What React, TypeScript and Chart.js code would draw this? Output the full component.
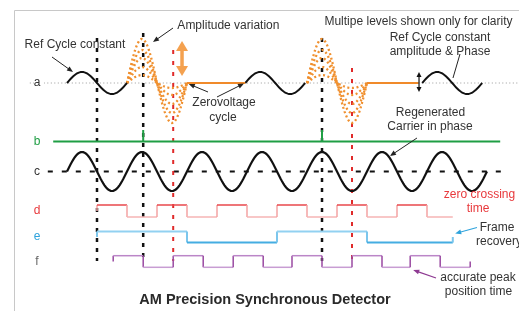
import { useEffect, useRef } from "react";
import { Chart, registerables } from "chart.js";
Chart.register(...registerables);

// ---- data (time measured in carrier periods) ----
const CYCLE_KINDS = ["ref", "var", "zero", "ref", "var", "zero", "ref"];
const CYCLE_STARTS = [0, 1, 2, 2.97, 4, 5, 5.92];
const CYCLE_ENDS = [1, 2, 2.97, 3.97, 5, 5.86, 6.92];
const REF_AMP = 11;
const VAR_PEAKS = [44, 33, 25, 16, 8];
const VAR_TROUGHS = [40, 30, 21, 12, 5];
const CARRIER_CYCLES = 7;
const CARRIER_AMP = 19.5;
const B_RANGE = [-0.23, 7.22];
const B_TICKS = [1.27, 4.25];
const B_TICK_H = 11.5;
const D_EDGES = [0.5, 1, 1.5, 2, 2.5, 3, 3.5, 4, 4.5, 5, 5.5, 6, 6.43];
const D_LEVELS = [1, 0, 1, 0, 1, 0, 1, 0, 1, 0, 1, 0];
const E_EDGES = [0.5, 2, 3.5, 5, 6.43];
const E_LEVELS = [1, 0, 1, 0];
const F_EDGES = [0.77, 1.27, 1.77, 2.27, 2.77, 3.27, 3.75, 4.25, 4.75, 5.25, 5.72, 6.22, 6.72];
const F_LEVELS = [1, 0, 1, 0, 1, 0, 1, 0, 1, 0, 1, 0];
const PEAK_MARKS = [0.5, 1.27, 4.25];
const PEAK_MARK_TOPS = [38, 33, 38];
const TROUGH_MARKS = [1.77, 4.75];
const TROUGH_MARK_TOPS = [50, 68];
const ROW_LABELS = ["a", "b", "c", "d", "e", "f"];

// ---- layout / style ----
const ROW = { a: 83, b: 141.5, c: 171.5, d: 211, e: 237, f: 261.5 };
const SWING = { d: 6, e: 5.6, f: 5.8 };
const MARK_BOTTOM = 261;
const FONT = '"Liberation Sans", Arial, sans-serif';
const ORANGE = "#f08a2a";
const GREEN = "#1f9e44";
const RED = "#e8393c";
const BLUE = "#2fa3dc";
const PURPLE = "#8e3a92";
const LABEL_COLORS = ["#333", GREEN, "#333", RED, BLUE, "#666"];

const N = 48;
function sineCycle(t0: number, t1: number, base: number, pos: number, neg: number) {
  const pts: { x: number; y: number }[] = [];
  for (let i = 0; i <= N; i++) {
    const f = i / N;
    const s = Math.sin(2 * Math.PI * f);
    const amp = s >= 0 ? pos : neg;
    pts.push({ x: t0 + (t1 - t0) * f, y: base - s * amp });
  }
  return pts;
}

function digital(edges: number[], levels: number[], base: number, swing: number, endTick: boolean) {
  const lv = (l: number) => (l ? base - swing : base + swing);
  const pts: { x: number; y: number }[] = [{ x: edges[0], y: base }];
  for (let i = 0; i < levels.length; i++) {
    pts.push({ x: edges[i], y: lv(levels[i]) });
    pts.push({ x: edges[i + 1], y: lv(levels[i]) });
  }
  if (endTick) pts.push({ x: edges[edges.length - 1], y: base });
  return pts;
}

function segColors(base: number, hi: string, lo: string, vert: string) {
  return (ctx: any) => {
    const a = ctx.p0.parsed, b = ctx.p1.parsed;
    if (Math.abs(a.x - b.x) < 1e-9) return vert;
    return a.y < base ? hi : lo;
  };
}

function line(data: any[], color: string, width: number, order: number, extra: any = {}) {
  return {
    type: "line",
    data,
    borderColor: color,
    borderWidth: width,
    pointRadius: 0,
    fill: false,
    tension: 0,
    order,
    ...extra,
  };
}

export default function App() {
  const ref = useRef<HTMLCanvasElement>(null);
  useEffect(() => {
    const datasets: any[] = [];
    // a baseline (dotted)
    datasets.push(line([{ x: -0.62, y: ROW.a }, { x: 7.52, y: ROW.a }], "#9a9a9a", 1, 20, { borderDash: [1, 2.5] }));
    // c baseline (dashed)
    datasets.push(line([{ x: -0.32, y: ROW.c }, { x: 7.27, y: ROW.c }], "#111", 2, 20, { borderDash: [5, 9] }));
    // vertical marker lines
    PEAK_MARKS.forEach((t, i) =>
      datasets.push(line([{ x: t, y: PEAK_MARK_TOPS[i] }, { x: t, y: MARK_BOTTOM }], "#111", 2.5, 15, { borderDash: [4, 6] }))
    );
    TROUGH_MARKS.forEach((t, i) =>
      datasets.push(line([{ x: t, y: TROUGH_MARK_TOPS[i] }, { x: t, y: MARK_BOTTOM }], "#e02a2a", 2, 15, { borderDash: [4, 7] }))
    );
    // signal a
    CYCLE_KINDS.forEach((k, i) => {
      const t0 = CYCLE_STARTS[i], t1 = CYCLE_ENDS[i];
      if (k === "ref") {
        datasets.push(line(sineCycle(t0, t1, ROW.a, REF_AMP, REF_AMP), "#111", 2, 5));
      } else if (k === "zero") {
        datasets.push(line([{ x: t0, y: ROW.a }, { x: t1, y: ROW.a }], ORANGE, 2.2, 5));
      } else {
        VAR_PEAKS.forEach((p, j) =>
          datasets.push(line(sineCycle(t0, t1, ROW.a, p, VAR_TROUGHS[j]), "#f0902f", 2.3, 6, { borderDash: [2, 2.6] }))
        );
      }
    });
    // signal b
    datasets.push(line([{ x: B_RANGE[0], y: ROW.b }, { x: B_RANGE[1], y: ROW.b }], GREEN, 2, 5));
    B_TICKS.forEach((t) =>
      datasets.push(line([{ x: t, y: ROW.b - B_TICK_H }, { x: t, y: ROW.b }], GREEN, 2, 5))
    );
    // signal c
    const cpts: any[] = [];
    for (let k = 0; k < CARRIER_CYCLES; k++) {
      const c = sineCycle(k, k + 1, ROW.c, CARRIER_AMP, CARRIER_AMP);
      if (k > 0) c.shift();
      cpts.push(...c);
    }
    datasets.push(line(cpts, "#111", 2.2, 5));
    // digital d, e, f
    datasets.push(line(digital(D_EDGES, D_LEVELS, ROW.d, SWING.d, false), RED, 1.5, 5, {
      segment: { borderColor: segColors(ROW.d, "#e8474b", "#f6b5b5", "#f3a3a3") },
    }));
    datasets.push(line(digital(E_EDGES, E_LEVELS, ROW.e, SWING.e, true), BLUE, 2, 5, {
      segment: { borderColor: segColors(ROW.e, "#92d1f1", "#45ade2", "#7cc6ec") },
    }));
    datasets.push(line(digital(F_EDGES, F_LEVELS, ROW.f, SWING.f, true), PURPLE, 1.5, 5, {
      segment: { borderColor: segColors(ROW.f, "#bb86c8", "#c89dd3", "#9a4aa2") },
    }));

    const annotate = {
      id: "annotate",
      beforeDatasetsDraw(chart: any) {
        const c = chart.ctx;
        c.save();
        c.strokeStyle = "#c8c8c8";
        c.lineWidth = 1;
        c.beginPath();
        c.moveTo(14.5, 311);
        c.lineTo(14.5, 10.5);
        c.lineTo(519, 10.5);
        c.stroke();
        c.restore();
      },
      afterDatasetsDraw(chart: any) {
        const c = chart.ctx;
        const xs = chart.scales.x, ys = chart.scales.y;
        const X = (t: number) => xs.getPixelForValue(t);
        const Y = (v: number) => ys.getPixelForValue(v);
        c.save();
        const text = (s: string, t: number, v: number, color = "#333", size = 12, weight = "normal", align: CanvasTextAlign = "center") => {
          c.font = `${weight} ${size}px ${FONT}`;
          c.fillStyle = color;
          c.textAlign = align;
          c.textBaseline = "middle";
          c.fillText(s, X(t), Y(v));
        };
        const arrow = (t1: number, v1: number, t2: number, v2: number, color: string, w = 1, hl = 6, hw = 5, both = false) => {
          const x1 = X(t1), y1 = Y(v1), x2 = X(t2), y2 = Y(v2);
          const head = (ax: number, ay: number, bx: number, by: number) => {
            const ang = Math.atan2(by - ay, bx - ax);
            c.beginPath();
            c.moveTo(bx, by);
            c.lineTo(bx - hl * Math.cos(ang) + (hw / 2) * Math.sin(ang), by - hl * Math.sin(ang) - (hw / 2) * Math.cos(ang));
            c.lineTo(bx - hl * Math.cos(ang) - (hw / 2) * Math.sin(ang), by - hl * Math.sin(ang) + (hw / 2) * Math.cos(ang));
            c.closePath();
            c.fill();
          };
          c.strokeStyle = color;
          c.fillStyle = color;
          c.lineWidth = w;
          c.beginPath();
          const ang = Math.atan2(y2 - y1, x2 - x1);
          const sx = both ? x1 + Math.cos(ang) * hl * 0.8 : x1;
          const sy = both ? y1 + Math.sin(ang) * hl * 0.8 : y1;
          c.moveTo(sx, sy);
          c.lineTo(x2 - Math.cos(ang) * hl * 0.8, y2 - Math.sin(ang) * hl * 0.8);
          c.stroke();
          head(x1, y1, x2, y2);
          if (both) head(x2, y2, x1, y1);
        };
        const seg = (t1: number, v1: number, t2: number, v2: number, color: string, w = 1) => {
          c.strokeStyle = color;
          c.lineWidth = w;
          c.beginPath();
          c.moveTo(X(t1), Y(v1));
          c.lineTo(X(t2), Y(v2));
          c.stroke();
        };
        // row labels
        const rowVals = [ROW.a, ROW.b, ROW.c, ROW.d, ROW.e, ROW.f];
        ROW_LABELS.forEach((l, i) => {
          c.fillStyle = "#fff";
          c.fillRect(X(-0.55), Y(rowVals[i]) - 7, 10, 14);
          text(l, -0.5, rowVals[i], LABEL_COLORS[i], 12);
        });
        // annotations
        text("Ref Cycle constant", 0.133, 45);
        arrow(-0.25, 57, 0.1, 72, "#222", 1, 6, 5);
        text("Amplitude variation", 2.69, 26);
        arrow(1.767, 28, 1.433, 42, "#222", 1, 6, 5);
        text("Multipe levels shown only for clarity", 5.858, 22);
        text("Ref Cycle constant", 6.217, 38);
        text("amplitude & Phase", 6.217, 52);
        seg(6.55, 54, 6.433, 78, "#222", 1);
        text("Zerovoltage", 2.617, 103);
        text("cycle", 2.6, 118);
        arrow(2.35, 92, 2.03, 84, "#222", 1, 6, 5);
        arrow(2.5, 97, 2.95, 83.5, "#222", 1, 6, 5);
        text("Regenerated", 6.058, 113);
        text("Carrier in phase", 6.05, 127);
        arrow(5.833, 138, 5.383, 156, "#222", 1, 6, 5);
        text("zero crossing", 6.875, 195, RED);
        text("time", 6.85, 209, RED);
        text("Frame", 7.167, 227.5);
        text("recovery", 7.2, 241.5);
        arrow(6.833, 227.5, 6.47, 233.5, BLUE, 1.2, 6, 5);
        text("accurate peak", 6.85, 278);
        text("position time", 6.858, 292);
        arrow(6.15, 278, 5.77, 270, PURPLE, 1.2, 6, 5);
        // amplitude arrows
        arrow(1.917, 41, 1.917, 76, "#f4a14f", 3.5, 10, 12, true);
        arrow(5.867, 72, 5.867, 92, "#111", 1.2, 5, 5, true);
        // title
        text("AM Precision Synchronous Detector", 3.3, 300, "#2a2a2a", 14.5, "bold");
        c.restore();
      },
    };

    const chart = new Chart(ref.current as HTMLCanvasElement, {
      type: "line",
      data: { datasets },
      options: {
        responsive: false,
        maintainAspectRatio: false,
        animation: false,
        parsing: false as any,
        normalized: true,
        layout: { padding: 0 },
        plugins: { legend: { display: false }, tooltip: { enabled: false }, title: { display: false } },
        scales: {
          x: { type: "linear", min: -67 / 60, max: 452 / 60, display: false },
          y: { type: "linear", min: 0, max: 311, reverse: true, display: false },
        },
      },
      plugins: [annotate],
    } as any);
    return () => chart.destroy();
  }, []);
  return (
    <div style={{ position: "fixed", left: 0, top: 0, width: 519, height: 311, background: "#fff" }}>
      <canvas ref={ref} width={519} height={311} style={{ display: "block" }} />
    </div>
  );
}
